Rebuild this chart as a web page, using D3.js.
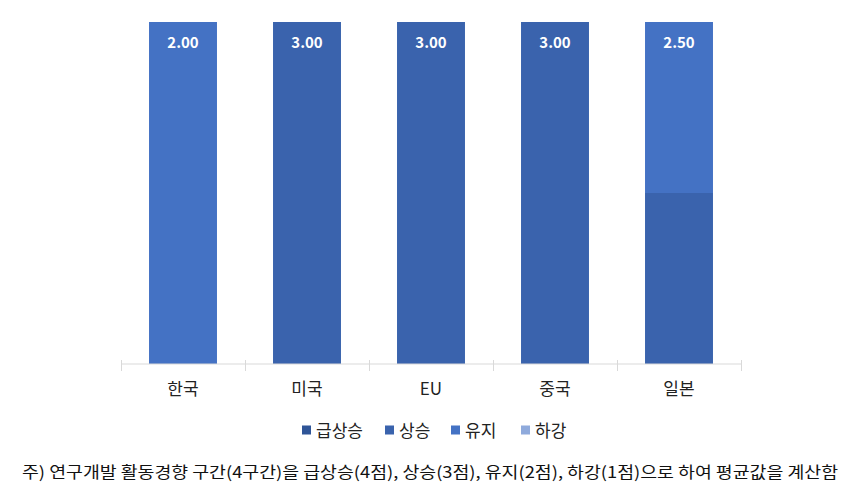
<!DOCTYPE html>
<html><head><meta charset="utf-8">
<script src="https://cdn.jsdelivr.net/npm/d3@7"></script>
<style>body{margin:0;background:#fff}svg{display:block}</style>
</head><body>
<svg id="c" width="855" height="492"></svg>
<script>
const categories = ["한국", "미국", "EU", "중국", "일본"];
const seriesNames = ["급상승", "상승", "유지", "하강"];
const seriesColors = ["#2F5597", "#3A63AD", "#4472C4", "#8FAADC"];
// share of responses per category (급상승, 상승, 유지, 하강)
const rapidRise = [0, 0, 0, 0, 0];
const rise      = [0, 1, 1, 1, 0.5];
const keep      = [1, 0, 0, 0, 0.5];
const fall      = [0, 0, 0, 0, 0];
const avgLabels = ["2.00", "3.00", "3.00", "3.00", "2.50"];
const note = "주) 연구개발 활동경향 구간(4구간)을 급상승(4점), 상승(3점), 유지(2점), 하강(1점)으로 하여 평균값을 계산함";

const rows = categories.map((c, i) => ({cat: c, "급상승": rapidRise[i], "상승": rise[i], "유지": keep[i], "하강": fall[i]}));
const svg = d3.select("#c");
const font = "'Noto Sans CJK KR', 'Noto Sans', sans-serif";

const x = d3.scaleBand().domain(categories).range([121, 741]).paddingInner(0.452).paddingOuter(0.226);
const y = d3.scaleLinear().domain([0, 1]).range([364, 22]);
const color = d3.scaleOrdinal().domain(seriesNames).range(seriesColors);

const stack = d3.stack().keys(seriesNames)(rows);
svg.append("g").selectAll("g").data(stack).join("g")
  .attr("fill", d => color(d.key))
  .selectAll("rect").data(d => d).join("rect")
  .attr("x", d => x(d.data.cat))
  .attr("width", x.bandwidth())
  .attr("y", d => y(d[1]))
  .attr("height", d => y(d[0]) - y(d[1]));

// axis
const axis = svg.append("g");
axis.append("line").attr("x1", 121).attr("x2", 741).attr("y1", 364).attr("y2", 364)
  .attr("stroke", "#d9d9d9").attr("stroke-width", 1);
const tickPos = categories.map(c => x(c) - x.step() * x.paddingInner() / 2);
tickPos.push(741);
axis.selectAll("line.t").data(tickPos).join("line").attr("class", "t")
  .attr("x1", d => Math.round(d) + 0.5).attr("x2", d => Math.round(d) + 0.5)
  .attr("y1", 360).attr("y2", 371).attr("stroke", "#d9d9d9");
axis.selectAll("text").data(categories).join("text")
  .attr("x", d => x(d) + x.bandwidth() / 2).attr("y", 395)
  .attr("text-anchor", "middle").attr("font-family", font).attr("font-size", 17)
  .attr("fill", "#222").text(d => d);

// value labels
svg.selectAll("text.v").data(categories).join("text").attr("class", "v")
  .attr("x", d => x(d) + x.bandwidth() / 2).attr("y", 48)
  .attr("text-anchor", "middle").attr("font-family", font).attr("font-size", 15)
  .attr("font-weight", "bold").attr("fill", "#fff").text((d, i) => avgLabels[i]);

// legend
const legX = [302, 385, 451, 521];
const leg = svg.append("g").selectAll("g").data(seriesNames).join("g")
  .attr("transform", (d, i) => `translate(${legX[i]},430)`);
leg.append("rect").attr("x", 0).attr("y", -4.5).attr("width", 9).attr("height", 9)
  .attr("fill", d => color(d));
leg.append("text").attr("x", 14).attr("y", 6.5).attr("font-family", font).attr("font-size", 17)
  .attr("fill", "#222").text(d => d);

// footnote
svg.append("text").attr("x", 22).attr("y", 478).attr("font-family", font).attr("font-size", 16)
  .attr("fill", "#111").attr("textLength", 816).attr("lengthAdjust", "spacingAndGlyphs").text(note);
</script>
</body></html>
